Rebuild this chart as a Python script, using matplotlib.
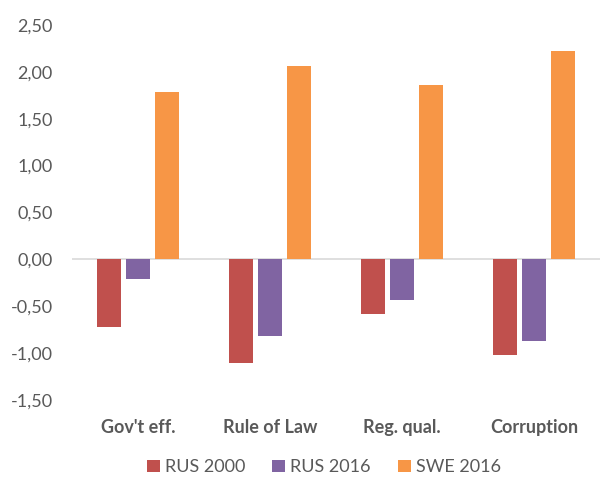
import matplotlib.pyplot as plt
import numpy as np

plt.rcParams['font.family'] = ['Lato', 'DejaVu Sans']

categories = ["Gov't eff.", "Rule of Law", "Reg. qual.", "Corruption"]
rus2000 = [-0.72, -1.11, -0.58, -1.02]
rus2016 = [-0.21, -0.82, -0.43, -0.87]
swe2016 = [1.79, 2.06, 1.86, 2.22]

c_rus00 = '#C0504D'
c_rus16 = '#8064A2'
c_swe = '#F79646'
txt = '#595959'

fig = plt.figure(figsize=(6, 4.8), dpi=100)
ax = fig.add_axes([0.12, 0.167, 0.88, 0.781])

x = np.arange(len(categories))
w = 0.175
off = 0.22
ax.bar(x - off, rus2000, w, color=c_rus00, label='RUS 2000')
ax.bar(x, rus2016, w, color=c_rus16, label='RUS 2016')
ax.bar(x + off, swe2016, w, color=c_swe, label='SWE 2016')

ax.axhline(0, color='#D9D9D9', lw=1.2, zorder=0)
ax.set_xlim(-0.5, len(categories) - 0.5)
ax.set_ylim(-1.5, 2.5)
ax.set_yticks(np.arange(-1.5, 2.51, 0.5))
ax.set_yticklabels([f"{v:.2f}".replace('.', ',') for v in np.arange(-1.5, 2.51, 0.5)],
                   fontsize=13, color=txt)
ax.set_xticks(x)
ax.set_xticklabels(categories, fontsize=13, fontweight='bold', color=txt)
ax.tick_params(axis='both', length=0)
ax.tick_params(axis='x', pad=14)
ax.tick_params(axis='y', pad=14)
for s in ax.spines.values():
    s.set_visible(False)

fig.legend(loc='lower center', bbox_to_anchor=(0.54, -0.024), ncol=3, frameon=False,
           fontsize=13, labelcolor=txt, handlelength=0.7, handleheight=0.7,
           handletextpad=0.3, columnspacing=1.5)

fig.savefig('out.png', dpi=100)
